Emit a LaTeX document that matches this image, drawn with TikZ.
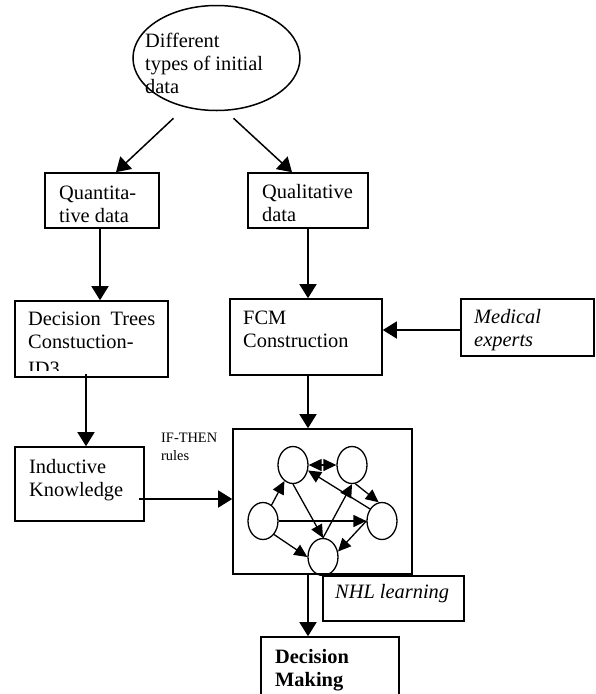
\documentclass[tikz,border=0pt]{standalone}
\usepackage{fontspec}
\setmainfont{Liberation Serif}
\usetikzlibrary{shapes.geometric,arrows.meta,calc}
\begin{document}
\begin{tikzpicture}[x=1pt,y=-1pt,
  box/.style={draw,line width=1.6pt,rectangle,inner sep=0pt},
  circ/.style={draw,line width=1.3pt,ellipse,minimum width=30pt,minimum height=37pt,inner sep=0pt},
  arr/.style={line width=1.5pt,-{Triangle[length=14pt,width=17pt]}},
  sarr/.style={line width=1.3pt,-{Triangle[length=13pt,width=12pt]}},
  darr/.style={line width=1.3pt,{Triangle[length=13pt,width=12pt]}-{Triangle[length=13pt,width=12pt]}},
  txt/.style={font=\fontsize{20.4}{23}\selectfont,inner sep=0pt,anchor=base west,align=left},
  itxt/.style={txt,font=\fontsize{20.4}{23}\selectfont\itshape},
  btxt/.style={txt,font=\fontsize{20.4}{23}\selectfont\bfseries},
  small/.style={font=\fontsize{14.4}{18}\selectfont,inner sep=0pt,anchor=base west,align=left}]
\clip (0,0) rectangle (595,694);
% main shapes
\node[draw,ellipse,line width=1.5pt,minimum width=167pt,minimum height=105pt,inner sep=0pt] (ell) at (216.5,58) {};
\node[box,minimum width=114pt,minimum height=55pt] (quant) at (102,200.5) {};
\node[box,minimum width=120pt,minimum height=55pt] (qual) at (308,200.5) {};
\node[box,minimum width=153pt,minimum height=76pt] (dt) at (91.5,339) {};
\node[box,minimum width=152pt,minimum height=76pt] (fcm) at (306,337) {};
\node[box,minimum width=133pt,minimum height=57pt] (med) at (527.5,327.5) {};
\node[box,minimum width=129pt,minimum height=74pt] (ik) at (79.5,484) {};
\node[box,minimum width=179pt,minimum height=145pt] (big) at (322.5,501.5) {};
\node[box,minimum width=141pt,minimum height=45pt] (nhl) at (393.5,598.5) {};
\node[box,minimum width=138pt,minimum height=83pt] (dm) at (330,678.5) {};
% texts (anchor = baseline of last line)
\node[txt] (t-ell) at (145,93) {Different\\types of initial\\data};
\node[txt] (t-quant) at (59,222) {Quantita-\\tive data};
\node[txt] (t-qual) at (262,221) {Qualitative\\data};
\node[txt] (t-dt) at (28,348) {\makebox[127pt][s]{Decision Trees}\\Constuction-};
\begin{scope}
  \clip (15,301) rectangle (168,370.5);
  \node[txt] (t-id3) at (28,375) {ID3};
\end{scope}
\node[txt] (t-fcm) at (243,347) {FCM\\Construction};
\node[itxt] (t-med) at (474,346) {Medical\\experts};
\node[txt] (t-ik) at (29,496) {Inductive\\Knowledge};
\node[small] (t-if) at (161,460) {IF-THEN\\rules};
\node[itxt] (t-nhl) at (335,598) {NHL learning};
\node[btxt] (t-dm) at (275,686) {Decision\\Making};
% FCM graph
\node[circ] (A) at (293,465) {};
\node[circ] (B) at (352,465) {};
\node[circ] (C) at (263,521) {};
\node[circ] (D) at (382,521) {};
\node[circ] (E) at (323,557) {};
\draw[sarr] (C) -- (A);
\draw[darr] (A) -- (B);
\draw[sarr] (A.south) -- (E.north);
\draw[sarr] (C) -- (D);
\draw[sarr] (C.south east) -- (E.west);
\draw[sarr] (E.north) -- (B.south);
\draw[sarr] (D.west) -- (E.20);
\draw[sarr] (D.135) -- (A.-20);
\draw[sarr] (B.-80) -- (D.100);
% connector end points
\coordinate (e1) at ($(ell.south)+(-43,7)$);
\coordinate (e2) at ($(ell.south)+(17,7)$);
\coordinate (q1) at ($(quant.south)+(-2,0)$);
\coordinate (d1) at ($(dt.south)+(-5.5,-4)$);
\coordinate (i1) at ($(ik.east)+(-6,15)$);
\coordinate (m1) at ($(med.west)+(0,2.5)$);
\coordinate (f1) at ($(fcm.south)+(2,0)$);
\coordinate (b1) at ($(big.south)+(-14.5,0)$);
% connectors
\draw[arr] (e1) -- ($(quant.north)+(14,0)$);
\draw[arr] (e2) -- ($(qual.north)+(-16,0)$);
\draw[arr] (q1) -- (q1 |- dt.north);
\draw[arr] (qual.south) -- (qual.south |- fcm.north);
\draw[arr] (d1) -- (d1 |- ik.north);
\draw[arr] (i1) -- (i1 -| big.west);
\draw[arr] (m1) -- (m1 -| fcm.east);
\draw[arr] (f1) -- (f1 |- big.north);
\draw[arr] (b1) -- (b1 |- dm.north);
\end{tikzpicture}
\end{document}
